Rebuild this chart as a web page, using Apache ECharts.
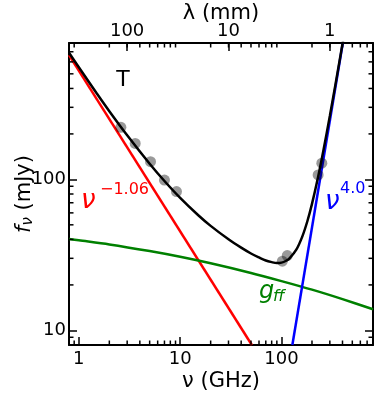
<!DOCTYPE html>
<html>
<head>
<meta charset="utf-8">
<script src="https://cdn.jsdelivr.net/npm/echarts@6/dist/echarts.min.js"></script>
<style>
  html, body { margin: 0; padding: 0; background: #fff; }
  #chart { width: 374px; height: 396px; }
</style>
</head>
<body>
<div id="chart"></div>
<script>
// measured points (gray circles)
var nuObs = [2.6, 3.6, 5.1, 7.0, 9.2, 102, 114, 230, 250];
var fluxObs = [221, 173, 131, 99, 83, 28.7, 31.3, 107, 128];

// total model (black)
var nuModel = [0.8, 1, 1.5, 2, 3, 5, 7, 10, 15, 20, 30, 40, 50, 60, 70, 80, 90, 100, 110, 120, 140, 160, 180, 200, 230, 260, 300, 340, 380, 410];
var fluxModel = [690, 553, 372, 283, 196, 127, 97.5, 75.4, 58.1, 49.2, 40.1, 35.3, 32.3, 30.4, 29.0, 28.3, 27.9, 28.1, 28.8, 30.0, 34.2, 41.6, 52.8, 68.8, 104, 157, 263, 421, 646, 870];

// synchrotron nu^-1.06 (red)
var nuSync = [0.8, 51];
var fluxSync = [665, 8];

// dust nu^4.0 (blue)
var nuDust = [128, 403];
var fluxDust = [8, 800];

// free-free g_ff (green)
var nuFF = [0.8, 1, 2, 5, 10, 20, 50, 100, 200, 400, 800];
var fluxFF = [40.3, 39.5, 37.1, 33.5, 30.7, 27.8, 24.0, 21.2, 18.6, 16.1, 13.8];

// ticks
var xMajor = [1, 10, 100];
var xMinor = [0.9, 2, 3, 4, 5, 6, 7, 8, 9, 20, 30, 40, 50, 60, 70, 80, 90, 200, 300, 400, 500, 600, 700];
var lamMajor = [100, 10, 1];
var yMajor = [10, 100];
var yMinor = [9, 20, 30, 40, 50, 60, 70, 80, 90, 200, 300, 400, 500, 600, 700];

var C_MM_GHZ = 299.792458; // lambda(mm) = c / nu(GHz)
var FONT = 'DejaVu Sans';
var MINOR_LEN = 4.5;

function pairs(xs, ys) {
  return xs.map(function (x, i) { return [x, ys[i]]; });
}

var chart = echarts.init(document.getElementById('chart'), null, { renderer: 'canvas' });

function ax(pos, min, max, ticks) {
  return {
    type: 'log', logBase: 10, min: min, max: max, position: pos,
    splitLine: { show: false },
    axisLine: { show: true, onZero: false, lineStyle: { color: '#000', width: 2 } },
    axisTick: {
      show: true, inside: true, length: 8, customValues: ticks,
      lineStyle: { color: '#000', width: 1.5 }
    },
    axisLabel: { show: false },
    nameMoveOverlap: false
  };
}
function lab(values, fmt) {
  return {
    show: true, customValues: values, margin: 5,
    color: '#000', fontFamily: FONT, fontSize: 18, formatter: fmt
  };
}
var nameStyle = { color: '#000', fontFamily: FONT, fontSize: 21 };
var nuLamMajor = lamMajor.map(function (l) { return C_MM_GHZ / l; });

var xAxes = [ax('bottom', 0.8, 800, xMajor), ax('top', 0.8, 800, nuLamMajor)];
xAxes[0].axisLabel = lab(xMajor, function (v) { return String(Math.round(v)); });
xAxes[0].name = 'ν (GHz)';
xAxes[0].nameLocation = 'middle';
xAxes[0].nameGap = 26;
xAxes[0].nameTextStyle = nameStyle;

xAxes[1].axisLabel = lab(nuLamMajor, function (v) { return String(Math.round(C_MM_GHZ / v)); });
xAxes[1].axisLabel.margin = 3;
xAxes[1].name = 'λ (mm)';
xAxes[1].nameLocation = 'middle';
xAxes[1].nameGap = 19;
xAxes[1].nameTextStyle = nameStyle;

var yAxes = [ax('left', 8, 800, yMajor), ax('right', 8, 800, yMajor)];
yAxes[0].axisLabel = lab(yMajor, function (v) { return String(Math.round(v)); });
yAxes[0].axisLabel.margin = 3;
yAxes[0].name = '{f|f}{s|ν} (mJy)';
yAxes[0].nameLocation = 'middle';
yAxes[0].nameGap = 33;
yAxes[0].nameTextStyle = {
  color: '#000', fontFamily: FONT, fontSize: 21,
  rich: {
    f: { fontFamily: FONT, fontSize: 21, fontStyle: 'italic', color: '#000' },
    s: { fontFamily: FONT, fontSize: 15, fontStyle: 'italic', color: '#000', padding: [8, 0, 0, 0] }
  }
};

// minor ticks on all four sides, placed through the axes' own log scales
function tickLine(x1, y1, x2, y2) {
  return { type: 'line', shape: { x1: x1, y1: y1, x2: x2, y2: y2 }, style: { stroke: '#000', lineWidth: 1.5 } };
}
function xMinorTicks(params, api) {
  var cs = params.coordSys;
  var x = api.coord([api.value(0), api.value(1)])[0];
  return {
    type: 'group', children: [
      tickLine(x, cs.y + cs.height, x, cs.y + cs.height - MINOR_LEN),
      tickLine(x, cs.y, x, cs.y + MINOR_LEN)
    ]
  };
}
function yMinorTicks(params, api) {
  var cs = params.coordSys;
  var y = api.coord([api.value(0), api.value(1)])[1];
  return {
    type: 'group', children: [
      tickLine(cs.x, y, cs.x + MINOR_LEN, y),
      tickLine(cs.x + cs.width, y, cs.x + cs.width - MINOR_LEN, y)
    ]
  };
}

function txt(x, y, s, size, color, italic, align) {
  return {
    type: 'text', x: x, y: y, z: 100,
    style: {
      text: s, fill: color, fontFamily: FONT, fontSize: size,
      fontStyle: italic ? 'italic' : 'normal',
      align: align || 'left', verticalAlign: 'middle'
    }
  };
}

var option = {
  backgroundColor: '#fff',
  animation: false,
  grid: { left: 69, right: 1, top: 43, bottom: 51, containLabel: false, outerBoundsMode: 'none' },
  xAxis: xAxes,
  yAxis: yAxes,
  series: [
    {
      type: 'line', data: pairs(nuSync, fluxSync), showSymbol: false,
      lineStyle: { color: '#ff0000', width: 2.5 }, z: 2
    },
    {
      type: 'line', data: pairs(nuFF, fluxFF), showSymbol: false, smooth: 0.3,
      lineStyle: { color: '#008000', width: 2.5 }, z: 2
    },
    {
      type: 'line', data: pairs(nuDust, fluxDust), showSymbol: false,
      lineStyle: { color: '#0000ff', width: 2.5 }, z: 2
    },
    {
      type: 'line', data: pairs(nuModel, fluxModel), showSymbol: false, smooth: 0.3,
      lineStyle: { color: '#000', width: 2.5 }, z: 3
    },
    {
      type: 'scatter', data: pairs(nuObs, fluxObs), symbol: 'circle', symbolSize: 11,
      itemStyle: { color: 'rgba(0,0,0,0.5)' }, z: 4
    },
    {
      type: 'custom', renderItem: xMinorTicks, silent: true, z: 5,
      data: xMinor.map(function (v) { return [v, 100]; })
    },
    {
      type: 'custom', renderItem: yMinorTicks, silent: true, z: 5,
      data: yMinor.map(function (v) { return [10, v]; })
    }
  ],
  graphic: [
    txt(123, 80, 'T', 22, '#000', false, 'center'),
    txt(81, 201, 'ν', 26, '#ff0000', true),
    txt(100, 190, '−1.06', 16, '#ff0000', false),
    txt(325, 202, 'ν', 26, '#0000ff', true),
    txt(340, 189, '4.0', 16, '#0000ff', false),
    txt(259, 292, 'g', 24, '#008000', true),
    txt(273, 297, 'ff', 16, '#008000', true)
  ]
};
chart.setOption(option);
</script>
</body>
</html>
